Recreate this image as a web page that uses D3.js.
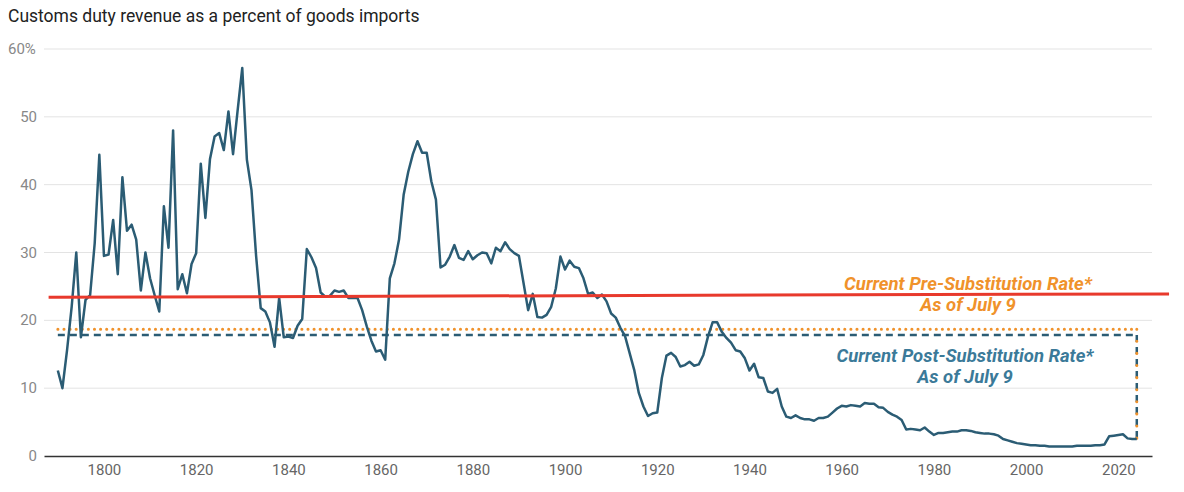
<!DOCTYPE html>
<html>
<head>
<meta charset="utf-8">
<script src="https://cdn.jsdelivr.net/npm/d3@7"></script>
<style>
  body { margin: 0; background: #fff; font-family: Roboto, "Noto Sans", sans-serif; }
</style>
</head>
<body>
<div id="chart"></div>
<script>
// customs duty revenue as % of goods imports, one value per year from 1790
const startYear = 1790;
const rates = [
  12.6, 10.0, 15.6, 22.0, 30.0, 17.5, 23.0, 23.7, 31.4, 44.4,   // 1790s
  29.5, 29.7, 34.8, 26.8, 41.1, 33.2, 34.1, 31.9, 24.4, 30.0,   // 1800s
  26.2, 23.7, 21.3, 36.8, 30.7, 48.0, 24.6, 26.8, 24.0, 28.3,   // 1810s
  29.9, 43.1, 35.1, 43.8, 47.1, 47.6, 45.1, 50.8, 44.5, 51.0,   // 1820s
  57.2, 43.7, 39.2, 29.5, 21.8, 21.3, 19.7, 16.1, 23.3, 17.5,   // 1830s
  17.6, 17.4, 19.2, 20.2, 30.5, 29.3, 27.7, 24.1, 23.5, 23.6,   // 1840s
  24.4, 24.2, 24.4, 23.3, 23.3, 23.3, 21.5, 19.1, 17.0, 15.4,   // 1850s
  15.6, 14.2, 26.2, 28.4, 31.9, 38.5, 41.9, 44.5, 46.4, 44.7,   // 1860s
  44.7, 40.5, 37.8, 27.8, 28.2, 29.4, 31.1, 29.2, 28.9, 30.2,   // 1870s
  29.0, 29.6, 30.0, 29.9, 28.4, 30.7, 30.2, 31.5, 30.5, 29.9,   // 1880s
  29.5, 25.5, 21.5, 23.9, 20.5, 20.4, 20.8, 22.0, 24.7, 29.4,   // 1890s
  27.5, 28.8, 27.9, 27.7, 26.2, 23.9, 24.1, 23.3, 23.8, 22.8,   // 1900s
  21.0, 20.4, 18.9, 17.7, 15.2, 12.7, 9.3, 7.3, 5.9, 6.3,       // 1910s
  6.4, 11.5, 14.8, 15.2, 14.6, 13.2, 13.4, 13.9, 13.3, 13.5,    // 1920s
  14.9, 17.6, 19.7, 19.7, 18.3, 17.4, 16.7, 15.6, 15.4, 14.4,   // 1930s
  12.6, 13.6, 11.6, 11.5, 9.5, 9.3, 9.9, 7.3, 5.8, 5.6,         // 1940s
  6.0, 5.6, 5.4, 5.4, 5.2, 5.6, 5.6, 5.8, 6.4, 7.0,             // 1950s
  7.4, 7.3, 7.5, 7.4, 7.3, 7.8, 7.7, 7.7, 7.2, 7.1,             // 1960s
  6.5, 6.1, 5.8, 5.3, 3.9, 4.0, 3.9, 3.8, 4.2, 3.6,             // 1970s
  3.1, 3.4, 3.4, 3.5, 3.6, 3.6, 3.8, 3.8, 3.7, 3.5,             // 1980s
  3.4, 3.3, 3.3, 3.2, 3.0, 2.5, 2.3, 2.1, 1.9, 1.8,             // 1990s
  1.7, 1.6, 1.6, 1.5, 1.5, 1.4, 1.4, 1.4, 1.4, 1.4,             // 2000s
  1.4, 1.5, 1.5, 1.5, 1.5, 1.6, 1.6, 1.7, 2.9, 3.0,             // 2010s
  3.1, 3.2, 2.6, 2.5, 2.5                                       // 2020s
];
const data = rates.map((v, i) => ({year: startYear + i, value: v}));

const yTicks = [0, 10, 20, 30, 40, 50, 60];
const xTicks = [1800, 1820, 1840, 1860, 1880, 1900, 1920, 1940, 1960, 1980, 2000, 2020];

const preRate = [23.4, 23.9];   // drawn from 1788 to 2031
const preRateYears = [1788, 2031];
const postRate = 17.85;
const postRateDotted = 18.7;
const lastYear = 2024;

const W = 1184, H = 492;

const x = d3.scaleLinear().domain([1787, 2027.3]).range([44, 1152]);
const y = d3.scaleLinear().domain([0, 60]).range([456, 49]);

const svg = d3.select("#chart").append("svg")
    .attr("width", W).attr("height", H);

svg.append("text")
    .attr("x", 8).attr("y", 22)
    .attr("font-size", 17.5).attr("fill", "#222")
    .text("Customs duty revenue as a percent of goods imports");

// gridlines + y labels
svg.append("g").selectAll("line")
    .data(yTicks.filter(d => d > 0))
    .enter().append("line")
    .attr("x1", 44).attr("x2", 1152)
    .attr("y1", d => y(d)).attr("y2", d => y(d))
    .attr("stroke", "#e3e3e3").attr("stroke-width", 1);

svg.append("g").selectAll("text")
    .data(yTicks)
    .enter().append("text")
    .attr("x", d => d === 60 ? 8 : 37)
    .attr("text-anchor", d => d === 60 ? "start" : "end")
    .attr("y", d => y(d) + 5)
    .attr("font-size", 15).attr("fill", "#888")
    .text(d => d === 60 ? "60%" : d);

// x axis
const xAxis = d3.axisBottom(x).tickValues(xTicks).tickFormat(d3.format("d")).tickSize(0).tickPadding(8);
const gx = svg.append("g").attr("transform", "translate(0," + y(0) + ")").call(xAxis);
gx.select(".domain").attr("stroke", "#333").attr("stroke-width", 1.5);
gx.selectAll("text").attr("font-size", 15).attr("fill", "#666")
    .attr("font-family", "Roboto, sans-serif");

// reference lines
function refLine(x1, x2, y1, y2, color, width, dash, cap) {
  svg.append("line")
      .attr("x1", x1).attr("x2", x2).attr("y1", y1).attr("y2", y2)
      .attr("stroke", color).attr("stroke-width", width)
      .attr("stroke-dasharray", dash).attr("stroke-linecap", cap);
}
const yEnd = y(rates[rates.length - 1]);
refLine(x(startYear), x(lastYear), y(postRateDotted), y(postRateDotted), "#f0922b", 3, "0.1,6", "round");
refLine(x(startYear), x(lastYear), y(postRate), y(postRate), "#2b5c74", 2.5, "7,5", "butt");
refLine(x(lastYear), x(lastYear), y(postRate), yEnd, "#2b5c74", 2.5, "7,5", "butt");
refLine(x(lastYear), x(lastYear), y(postRateDotted), yEnd, "#f0922b", 3, "0.1,12", "round");

// main series
const line = d3.line().x(d => x(d.year)).y(d => y(d.value));
svg.append("path").datum(data)
    .attr("d", line)
    .attr("fill", "none")
    .attr("stroke", "#2b5c74").attr("stroke-width", 2.5)
    .attr("stroke-linejoin", "round");

svg.append("line")
    .attr("x1", x(preRateYears[0])).attr("x2", x(preRateYears[1]))
    .attr("y1", y(preRate[0])).attr("y2", y(preRate[1]))
    .attr("stroke", "#e8392c").attr("stroke-width", 3);

// annotations
const notes = [
  {lines: ["Current Pre-Substitution Rate*", "As of July 9"], x: 968, y: 290, color: "#f0922b"},
  {lines: ["Current Post-Substitution Rate*", "As of July 9"], x: 965, y: 362, color: "#3b7a99"}
];
notes.forEach(n => {
  const t = svg.append("text")
      .attr("text-anchor", "middle")
      .attr("font-size", 18.5).attr("font-weight", "bold").attr("font-style", "italic")
      .attr("fill", n.color);
  n.lines.forEach((l, i) => {
    t.append("tspan").attr("x", n.x).attr("y", n.y + i * 21).text(l);
  });
});
</script>
</body>
</html>
